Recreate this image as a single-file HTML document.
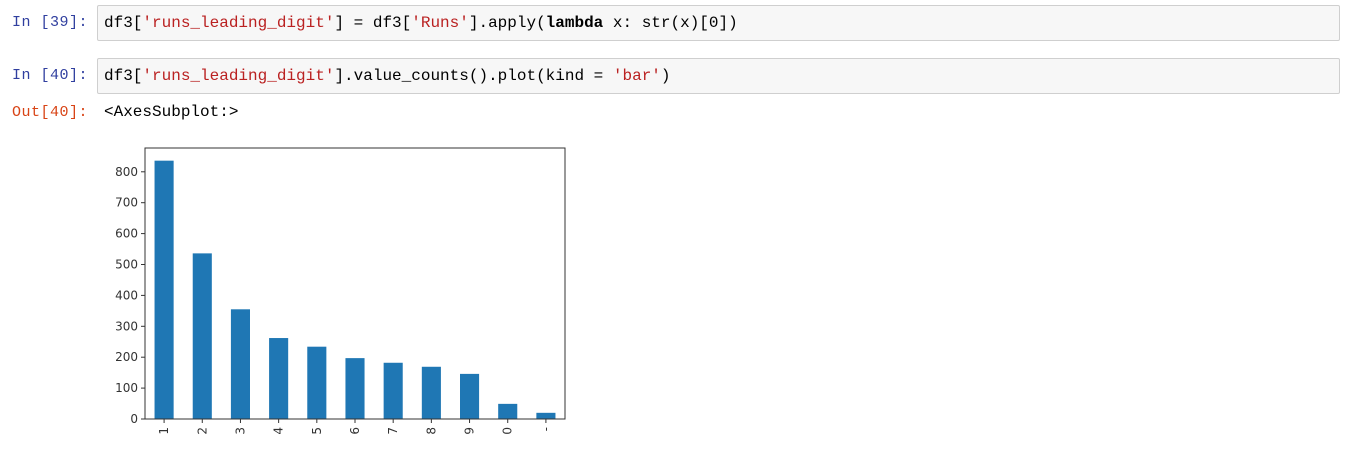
<!DOCTYPE html>
<html><head><meta charset="utf-8"><style>
body{margin:0;width:1353px;height:453px;background:#fff;position:relative;overflow:hidden;font-family:"Liberation Mono",monospace;font-size:15px}
.p{position:absolute;left:12px;color:#303f9f;letter-spacing:0.5px}
.o{color:#d84315}
.cell{position:absolute;left:97px;width:1243px;height:36px;background:#f7f7f7;border:1px solid #cfcfcf;border-radius:2px;box-sizing:border-box;padding:0 6px;line-height:34px;color:#000;font-size:16px}
.s{color:#ba2121}.k{font-weight:bold;color:#000}
</style></head><body>
<div class="p" style="top:14px">In [39]:</div>
<div class="cell" style="top:5px">df3[<span class="s">'runs_leading_digit'</span>] = df3[<span class="s">'Runs'</span>].apply(<span class="k">lambda</span> x: str(x)[0])</div>
<div class="p" style="top:67px">In [40]:</div>
<div class="cell" style="top:58px">df3[<span class="s">'runs_leading_digit'</span>].value_counts().plot(kind = <span class="s">'bar'</span>)</div>
<div class="p o" style="top:104px">Out[40]:</div>
<div style="position:absolute;left:104px;top:103px;font-size:16px">&lt;AxesSubplot:&gt;</div>
<svg id="chart" width="1353" height="453" style="position:absolute;left:0;top:0"></svg>
<script>
const categories=['1','2','3','4','5','6','7','8','9','0','-'];
const values=[836,536,355,262,234,197,182,169,146,49,20];
const yTicks=[0,100,200,300,400,500,600,700,800];
const L=145,R=565,T=148,B=419,yMax=877;
const NS='http://www.w3.org/2000/svg';
const svg=document.getElementById('chart');
const x=i=>L+(i+0.5)*(R-L)/categories.length;
const y=v=>B-v*(B-T)/yMax;
const bw=0.5*(R-L)/categories.length;
function mk(t,a){const e=document.createElementNS(NS,t);for(const k in a)e.setAttribute(k,a[k]);svg.appendChild(e);return e;}
values.forEach((v,i)=>{
 const r=mk('rect',{x:x(i)-bw/2,y:y(v),width:bw,height:B-y(v),fill:'#1f77b4'});
 
 
 mk('line',{x1:x(i),x2:x(i),y1:B,y2:B+4,stroke:'#333','stroke-width':1});
 const t=mk('text',{x:0,y:0,transform:`translate(${x(i)+4},${B+8}) rotate(-90)`,'text-anchor':'end','font-family':'DejaVu Sans, sans-serif','font-size':12,fill:'#333'});
 t.textContent=categories[i];
 
 
});
yTicks.forEach(v=>{
 mk('line',{x1:L-4,x2:L,y1:y(v),y2:y(v),stroke:'#333','stroke-width':1});
 const t=mk('text',{x:L-7,y:y(v)+4,'text-anchor':'end','font-family':'DejaVu Sans, sans-serif','font-size':12,fill:'#333'});
 t.textContent=v;
 
 
});
const f=mk('rect',{x:L,y:T,width:R-L,height:B-T,fill:'none',stroke:'#333','stroke-width':1});


</script>
</body></html>
